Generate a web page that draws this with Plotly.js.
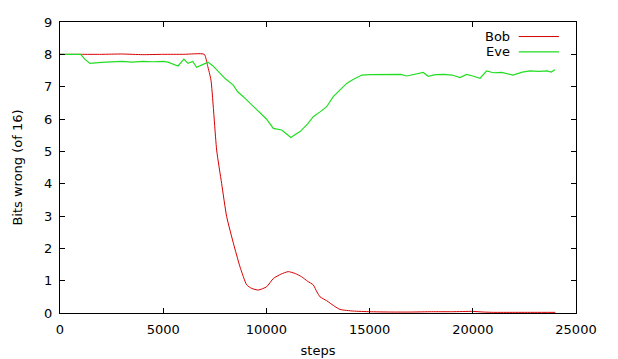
<!DOCTYPE html>
<html>
<head>
<meta charset="utf-8">
<script src="https://cdn.plot.ly/plotly-3.0.1.min.js"></script>
<style>html,body{margin:0;padding:0;background:#fff;}#chart{width:618px;height:359px;}</style>
</head>
<body>
<div id="chart"></div>
<script>
const bobSteps = [0,1000,2000,3000,4000,5000,6000,6990,7150,7315,7590,7830,8075,8400,8720,9045,9290,9610,10010,10340,10700,11060,11400,11710,12000,12270,12450,12600,12920,13320,13570,14210,15000,16000,17000,18000,19000,20000,20500,21000,22000,23000,24000];
const bobValues = [8,8,8,8.01,7.99,8,8,8,7.65,7.2,5.04,4.01,2.98,2.16,1.43,0.87,0.76,0.71,0.81,1.07,1.2,1.28,1.22,1.12,0.98,0.87,0.65,0.5,0.38,0.2,0.11,0.06,0.04,0.03,0.03,0.04,0.04,0.05,0.03,0.02,0.02,0.02,0.02];

const eveSteps = [0,1000,1200,1450,2000,2500,3000,3500,4000,4500,5000,5230,5500,5720,6000,6200,6430,6620,6800,7000,7170,7400,7700,8000,8396,8600,8880,9200,9500,9690,10000,10335,10740,10950,11180,11400,11630,12000,12270,12600,12920,13240,13500,13890,14200,14620,15000,15500,16000,16500,16800,17200,17600,17840,18200,18600,19000,19380,19700,20000,20350,20670,21000,21400,21950,22400,22770,23200,23600,23800,23980];
const eveValues = [8,8,7.85,7.72,7.75,7.77,7.78,7.76,7.78,7.77,7.78,7.76,7.68,7.64,7.85,7.72,7.78,7.6,7.65,7.72,7.76,7.65,7.45,7.25,7.05,6.85,6.69,6.5,6.3,6.18,6.0,5.71,5.66,5.55,5.43,5.52,5.61,5.85,6.07,6.22,6.38,6.69,6.85,7.1,7.22,7.36,7.37,7.38,7.39,7.38,7.33,7.39,7.44,7.32,7.37,7.38,7.36,7.28,7.38,7.33,7.26,7.49,7.43,7.44,7.36,7.45,7.49,7.47,7.49,7.45,7.52];

const xTicks = [0,5000,10000,15000,20000,25000];
const yTicks = [0,1,2,3,4,5,6,7,8,9];

const bobColor = '#d80000';
const eveColor = '#22dd22';
const font = {family: 'DejaVu Sans', size: 13, color: '#000'};

const traces = [
  {x: bobSteps, y: bobValues, type: 'scatter', mode: 'lines', name: 'Bob', line: {color: bobColor, width: 1, shape: 'spline', smoothing: 0.5}},
  {x: eveSteps, y: eveValues, type: 'scatter', mode: 'lines', name: 'Eve', line: {color: eveColor, width: 1.2}}
];

const axisCommon = {
  showline: true, linecolor: '#000', linewidth: 1, mirror: 'ticks',
  ticks: 'inside', ticklen: 5, tickwidth: 1, tickcolor: '#000',
  showgrid: false, zeroline: false, tickfont: font
};

const layout = {
  width: 618, height: 359,
  margin: {l: 60, r: 42, t: 22, b: 46},
  paper_bgcolor: '#fff', plot_bgcolor: '#fff',
  font: font,
  showlegend: false,
  xaxis: Object.assign({}, axisCommon, {
    range: [0, 25000], tickvals: xTicks, ticktext: xTicks.map(String),
    ticklabelstandoff: 4,
    title: {text: 'steps', font: font, standoff: 10}
  }),
  yaxis: Object.assign({}, axisCommon, {
    range: [0, 9], tickvals: yTicks, ticktext: yTicks.map(String),
    ticklabelstandoff: 4,
    title: {text: 'Bits wrong (of 16)', font: font, standoff: 18}
  }),
  annotations: [
    {xref: 'paper', yref: 'paper', x: 0.876, y: 0.95, xanchor: 'right', yanchor: 'middle', text: 'Bob', showarrow: false, font: font},
    {xref: 'paper', yref: 'paper', x: 0.876, y: 0.897, xanchor: 'right', yanchor: 'middle', text: 'Eve', showarrow: false, font: font}
  ],
  shapes: [
    {type: 'line', xref: 'paper', yref: 'paper', x0: 0.889, x1: 0.967, y0: 0.95, y1: 0.95, line: {color: bobColor, width: 1}},
    {type: 'line', xref: 'paper', yref: 'paper', x0: 0.889, x1: 0.967, y0: 0.897, y1: 0.897, line: {color: eveColor, width: 1.2}}
  ]
};

Plotly.newPlot('chart', traces, layout, {staticPlot: true, displayModeBar: false});
</script>
</body>
</html>
